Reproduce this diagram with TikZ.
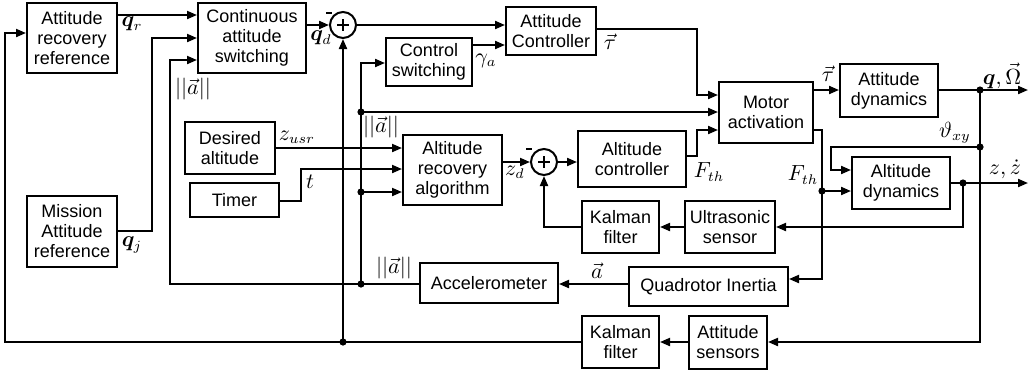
\documentclass[tikz,border=0pt]{standalone}
\usepackage{amsmath}
\usepackage{bm}
\usepackage{fontspec}
\setmainfont{Liberation Sans}
\usetikzlibrary{arrows.meta}
\begin{document}
\begin{tikzpicture}[x=0.5pt,y=-0.5pt,
  font=\fontsize{9}{10}\selectfont,
  blk/.style={draw,line width=1pt,align=center,inner sep=0pt},
  lnk/.style={line width=1pt},
  arw/.style={line width=1pt,-{Triangle[length=5pt,width=4pt]}},
  lbl/.style={inner sep=0pt,font=\fontsize{10.5}{12}\selectfont},
  sumj/.style={draw,circle,line width=1pt,minimum size=13pt,inner sep=0pt},
  jdot/.style={fill=black}]
\useasboundingbox (0,0) rectangle (1029,372);
% blocks
\node[blk,minimum width=45pt,minimum height=35pt] (arr) at (72,38) {Attitude\\recovery\\reference};
\node[blk,minimum width=54pt,minimum height=35pt] (cas) at (252,38) {Continuous\\attitude\\switching};
\node[blk,minimum width=45pt,minimum height=35.5pt] (mar) at (72,231.5) {Mission\\Attitude\\reference};
\node[blk,minimum width=45pt,minimum height=26pt] (des) at (230,148) {Desired\\altitude};
\node[blk,minimum width=44.5pt,minimum height=17pt] (tim) at (234.5,200) {Timer};
\node[blk,minimum width=43pt,minimum height=24pt] (csw) at (429,62) {Control\\switching};
\node[blk,minimum width=45pt,minimum height=24pt] (actl) at (551,31) {Attitude\\Controller};
\node[blk,minimum width=49.5pt,minimum height=35pt] (ara) at (452.5,170) {Altitude\\recovery\\algorithm};
\node[blk,minimum width=54pt,minimum height=28pt] (altc) at (632,159) {Altitude\\controller};
\node[blk,minimum width=47pt,minimum height=30.5pt] (mot) at (766,112.5) {Motor\\activation};
\node[blk,minimum width=49pt,minimum height=26.5pt] (atd) at (889,90.5) {Attitude\\dynamics};
\node[blk,minimum width=49pt,minimum height=26pt] (ald) at (901,183) {Altitude\\dynamics};
\node[blk,minimum width=38.5pt,minimum height=26pt] (kf1) at (620.5,227) {Kalman\\filter};
\node[blk,minimum width=45pt,minimum height=26pt] (uls) at (730,227) {Ultrasonic\\sensor};
\node[blk,minimum width=69pt,minimum height=20pt] (acc) at (489,283) {Accelerometer};
\node[blk,minimum width=79.5pt,minimum height=19.5pt] (qin) at (708.5,286.5) {Quadrotor Inertia};
\node[blk,minimum width=38.5pt,minimum height=26pt] (kf2) at (620.5,342) {Kalman\\filter};
\node[blk,minimum width=39pt,minimum height=26.5pt] (ats) at (728,342) {Attitude\\sensors};
% summing junctions
\node[sumj] (s1) at (343,25) {};
\node[sumj] (s2) at (544,162) {};
\foreach \s in {s1,s2}{
  \draw[line width=0.8pt] (\s.center) ++(-6,0) -- ++(12,0);
  \draw[line width=0.8pt] (\s.center) ++(0,-6) -- ++(0,12);
}
\draw[line width=1.2pt] (326,13) -- (332,13);
\draw[line width=1.2pt] (526,149) -- (532,149);
% junction coordinates
\coordinate (jb) at (343,342);
\coordinate (ja) at (361,112);
\coordinate (jc) at (361,192);
\coordinate (jd) at (361,284);
\coordinate (jq) at (980,90);
\coordinate (jv) at (980,147);
\coordinate (jf) at (822,191);
\coordinate (jz) at (963,183);
\coordinate (oq) at (1028,90);
\coordinate (oz) at (1028,183);
\foreach \j in {jb,ja,jc,jd,jq,jv,jf,jz}{\fill[jdot] (\j) circle[radius=1.8pt];}
% connectors
\draw[arw] (arr.east |- 0,15) -- (cas.west |- 0,15);
\draw[arw] (mar.east |- 0,231) -- (152,231) -- (152,38) -- (cas.west |- 0,38);
\draw[arw] (acc.west |- 0,284) -- (170,284) -- (170,60) -- (cas.west |- 0,60);
\draw[arw] (cas.east |- 0,25) -- (s1.west);
\draw[arw] (s1.east) -- (actl.west |- 0,25);
\draw[arw] (kf2.west) -- (5,342) -- (5,33) -- (arr.west |- 0,33);
\draw[arw] (jb) -- (s1.south);
\draw[arw] (jd) -- (361,63) -- (csw.west |- 0,63);
\draw[arw] (csw.east |- 0,45) -- (actl.west |- 0,45);
\draw[arw] (actl.east |- 0,29) -- (697,29) -- (697,95) -- (mot.west |- 0,95);
\draw[arw] (ja) -- (mot.west |- 0,112);
\draw[arw] (des.east |- 0,148) -- (ara.west |- 0,148);
\draw[arw] (tim.east |- 0,201) -- (301,201) -- (301,169) -- (ara.west |- 0,169);
\draw[arw] (jc) -- (ara.west |- 0,192);
\draw[arw] (ara.east |- 0,162) -- (s2.west);
\draw[arw] (s2.east) -- (altc.west |- 0,162);
\draw[arw] (altc.east |- 0,156) -- (697,156) -- (697,130) -- (mot.west |- 0,130);
\draw[arw] (mot.east |- 0,90) -- (atd.west |- 0,90);
\draw[arw] (atd.east |- 0,90) -- (oq);
\draw[arw] (jq) -- (980,342) -- (ats.east |- 0,342);
\draw[arw] (jv) -- (831,147) -- (831,170) -- (ald.west |- 0,170);
\draw[arw] (mot.east |- 0,130) -- (822,130) -- (822,279) -- (qin.east |- 0,279);
\draw[arw] (jf) -- (ald.west |- 0,191);
\draw[arw] (ald.east |- 0,183) -- (oz);
\draw[arw] (jz) -- (963,227) -- (uls.east |- 0,227);
\draw[arw] (uls.west) -- (kf1.east);
\draw[arw] (kf1.west) -- (544,227) -- (s2.south);
\draw[arw] (qin.west |- 0,284) -- (acc.east |- 0,284);
\draw[arw] (ats.west) -- (kf2.east);
% labels
\node[lbl] (lqr) at (132,24) {$\bm{q}_r$};
\node[lbl] (lqj) at (132,245) {$\bm{q}_j$};
\node[lbl] (la1) at (193,89) {$||\vec{a}||$};
\node[lbl] (lqd) at (321,38) {$\bm{q}_d$};
\node[lbl] (lga) at (486,61) {$\gamma_a$};
\node[lbl] (lt1) at (610,42) {$\vec{\tau}$};
\node[lbl] (la2) at (381,127) {$||\vec{a}||$};
\node[lbl] (lzu) at (297,137) {$z_{usr}$};
\node[lbl] (ltt) at (310,182) {$t$};
\node[lbl] (lzd) at (515,172) {$z_d$};
\node[lbl] (lf1) at (709,172) {$F_{th}$};
\node[lbl] (lf2) at (803,175) {$F_{th}$};
\node[lbl] (lt2) at (828,74) {$\vec{\tau}$};
\node[lbl] (lqo) at (1002,76) {$\bm{q},\vec{\Omega}$};
\node[lbl] (lth) at (955,133) {$\vartheta_{xy}$};
\node[lbl] (lzz) at (1005,169) {$z,\dot{z}$};
\node[lbl] (lav) at (597,271) {$\vec{a}$};
\node[lbl] (la3) at (394,268) {$||\vec{a}||$};
\end{tikzpicture}
\end{document}
